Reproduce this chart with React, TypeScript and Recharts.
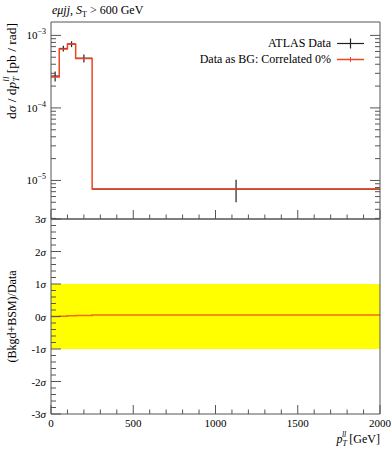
import React from 'react';
import { ComposedChart, Line, Scatter, ErrorBar, XAxis, YAxis, ReferenceArea } from 'recharts';

// bins in pT(ll) [GeV]
const binEdges = [0, 50, 100, 150, 250, 2000];
const mcValues = [2.66e-4, 6.5e-4, 7.6e-4, 4.8e-4, 7.6e-6];
const dataValues = [2.75e-4, 6.6e-4, 7.6e-4, 4.84e-4, 7.6e-6];
const dataErrors = [0.43e-4, 0.6e-4, 0.7e-4, 0.6e-4, 2.6e-6];
const pullValues = [0.0, 0.01, 0.02, 0.03, 0.05];

const decadeTicks = [1e-5, 1e-4, 1e-3];
const minorMultipliers = [2, 3, 4, 5, 6, 7, 8, 9];
const xMajorTicks = [0, 500, 1000, 1500, 2000];
const sigmaTicks = [-3, -2, -1, 0, 1, 2, 3];

const FONT = '"Liberation Serif", "DejaVu Serif", serif';
const FRAME = '#555';
const RED = '#ee4422';
const W = 392;
const LEFT = 51;
const RIGHT = 12;
const TOP = 22;
const MID = 219;
const BOTTOM = 414;

const logDomain: [number, number] = [2.94e-6, 1.53e-3];

// step line: each edge carries the value of the bin that starts there
const mcStep = binEdges.map((x, i) => ({ x, y: mcValues[Math.min(i, mcValues.length - 1)] }));
const pullStep = binEdges.map((x, i) => ({ x, y: pullValues[Math.min(i, pullValues.length - 1)] }));
const dataPts = dataValues.map((y, i) => ({
  x: (binEdges[i] + binEdges[i + 1]) / 2,
  y,
  ex: (binEdges[i + 1] - binEdges[i]) / 2,
  ey: dataErrors[i],
}));

const logTicks: number[] = [];
[1e-6, 1e-5, 1e-4].forEach((d) => {
  [1, ...minorMultipliers].forEach((m) => {
    const v = d * m;
    if (v >= logDomain[0] && v <= logDomain[1]) logTicks.push(v);
  });
});
logTicks.push(1e-3);

const xTicks: number[] = [];
for (let v = 0; v <= 2000; v += 100) xTicks.push(v);
const sigmaMinor: number[] = [];
for (let i = -15; i <= 15; i++) sigmaMinor.push(Math.round(i * 2) / 10);

const isDecade = (v: number) => Math.abs(Math.log10(v) - Math.round(Math.log10(v))) < 1e-6;
const isInt = (v: number) => Math.abs(v - Math.round(v)) < 1e-6;

const LogTick = ({ x, y, payload, side }: any) => {
  const v = payload.value;
  const major = isDecade(v);
  const len = major ? 10 : 5;
  const dir = side === 'left' ? 1 : -1;
  const exp = Math.round(Math.log10(v));
  return (
    <g>
      <line x1={x} x2={x + dir * len} y1={y} y2={y} stroke={FRAME} strokeWidth={1} />
      {side === 'left' && major && decadeTicks.includes(Number(`1e${exp}`)) && (
        <text x={x - 5} y={y + 4} textAnchor="end" fontFamily={FONT} fontSize={11} fill="#000">
          10<tspan dy={-5} fontSize={8}>{`−${-exp}`}</tspan>
        </text>
      )}
    </g>
  );
};

const SigmaTick = ({ x, y, payload, side }: any) => {
  const v = payload.value;
  const major = isInt(v);
  const len = major ? 10 : 5;
  const dir = side === 'left' ? 1 : -1;
  const n = Math.round(v);
  return (
    <g>
      <line x1={x} x2={x + dir * len} y1={y} y2={y} stroke={FRAME} strokeWidth={1} />
      {side === 'left' && major && sigmaTicks.includes(n) && (
        <text x={x - 5} y={y + 4} textAnchor="end" fontFamily={FONT} fontSize={11} fill="#000">
          {n < 0 ? `-${-n}` : `${n}`}
          <tspan fontStyle="italic">σ</tspan>
        </text>
      )}
    </g>
  );
};

const XTick = ({ x, y, payload, side, labels }: any) => {
  const v = payload.value;
  const major = v % 500 === 0;
  const len = major ? 9 : 4.5;
  const dir = side === 'top' ? 1 : -1;
  return (
    <g>
      <line x1={x} x2={x} y1={y} y2={y + dir * len} stroke={FRAME} strokeWidth={1} />
      {labels && major && xMajorTicks.includes(v) && (
        <text x={x} y={y + 13} textAnchor="middle" fontFamily={FONT} fontSize={11} fill="#000">
          {v}
        </text>
      )}
    </g>
  );
};

const App = () => {
  return (
    <div style={{ position: 'absolute', left: 0, top: 0, width: W, height: 450, background: '#fff' }}>
      {/* upper panel */}
      <div style={{ position: 'absolute', left: 0, top: 0 }}>
        <ComposedChart width={W} height={MID + 10}
          margin={{ top: TOP - 1, right: RIGHT - 1, bottom: 9, left: LEFT - 1 }}>
          <XAxis xAxisId="b" dataKey="x" type="number" domain={[0, 2000]} ticks={xTicks} interval={0}
            height={1} tickSize={0} tickMargin={0} stroke={FRAME} allowDataOverflow
            tick={<XTick side="bottom" />} />
          <XAxis xAxisId="t" orientation="top" dataKey="x" type="number" domain={[0, 2000]} ticks={xTicks}
            interval={0} height={1} tickSize={0} tickMargin={0} stroke={FRAME}
            tick={<XTick side="top" />} />
          <YAxis yAxisId="l" type="number" scale="log" domain={logDomain} allowDataOverflow ticks={logTicks}
            interval={0} width={1} tickSize={0} tickMargin={0} stroke={FRAME} tick={<LogTick side="left" />} />
          <YAxis yAxisId="r" orientation="right" type="number" scale="log" domain={logDomain} allowDataOverflow
            ticks={logTicks} interval={0} width={1} tickSize={0} tickMargin={0} stroke={FRAME}
            tick={<LogTick side="right" />} />
          <Scatter xAxisId="b" yAxisId="l" data={dataPts} dataKey="y" isAnimationActive={false}
            shape={() => <g />}>
            <ErrorBar dataKey="ex" direction="x" width={0} stroke="#222" strokeWidth={1.2} />
            <ErrorBar dataKey="ey" direction="y" width={0} stroke="#222" strokeWidth={1.2} />
          </Scatter>
          <Line xAxisId="b" yAxisId="l" data={mcStep} dataKey="y" type="stepAfter" stroke={RED}
            strokeWidth={1.5} dot={false} isAnimationActive={false} />
        </ComposedChart>
      </div>

      {/* lower panel */}
      <div style={{ position: 'absolute', left: 0, top: 0 }}>
        <ComposedChart width={W} height={450}
          margin={{ top: MID - 1, right: RIGHT - 1, bottom: 450 - BOTTOM - 1, left: LEFT - 1 }}>
          <XAxis xAxisId="b" dataKey="x" type="number" domain={[0, 2000]} ticks={xTicks} interval={0}
            height={1} tickSize={0} tickMargin={0} stroke={FRAME}
            tick={<XTick side="bottom" labels />} />
          <XAxis xAxisId="t" orientation="top" dataKey="x" type="number" domain={[0, 2000]} ticks={xTicks}
            interval={0} height={1} tickSize={0} tickMargin={0} stroke={FRAME}
            tick={<XTick side="top" />} />
          <YAxis yAxisId="l" type="number" domain={[-3, 3]} ticks={sigmaMinor} interval={0}
            width={1} tickSize={0} tickMargin={0} stroke={FRAME} tick={<SigmaTick side="left" />} />
          <YAxis yAxisId="r" orientation="right" type="number" domain={[-3, 3]} ticks={sigmaMinor} interval={0}
            width={1} tickSize={0} tickMargin={0} stroke={FRAME} tick={<SigmaTick side="right" />} />
          <ReferenceArea xAxisId="b" yAxisId="l" x1={0} x2={2000} y1={-1} y2={1} fill="#ffff00"
            fillOpacity={1} stroke="none" />
          <Line xAxisId="b" yAxisId="l" data={pullStep} dataKey="y" type="stepAfter" stroke={RED}
            strokeWidth={1.5} strokeOpacity={0.8} dot={false} isAnimationActive={false} />
        </ComposedChart>
      </div>

      {/* labels and legend */}
      <svg width={W} height={450} style={{ position: 'absolute', left: 0, top: 0, pointerEvents: 'none' }}
        fontFamily={FONT} fill="#000">
        <text x={52} y={14} fontSize={12}>
          <tspan fontStyle="italic">eμjj</tspan>, <tspan fontStyle="italic">S</tspan>
          <tspan fontSize={8} dy={3}>T</tspan>
          <tspan dy={-3}> &gt; 600 GeV</tspan>
        </text>

        <text transform={`translate(16,${TOP + 1}) rotate(-90)`} textAnchor="end" fontSize={13.5}>
          d<tspan fontStyle="italic">σ</tspan> / d<tspan fontStyle="italic">p</tspan>
          <tspan fontSize={9} dy={3} fontStyle="italic">T</tspan>
          <tspan fontSize={9} dy={-10} dx={-5} fontStyle="italic">ll</tspan>
          <tspan dy={7}> [pb / rad]</tspan>
        </text>

        <text transform={`translate(16,${(MID + BOTTOM) / 2}) rotate(-90)`} textAnchor="middle" fontSize={12}>
          (Bkgd+BSM)/Data
        </text>

        <text x={380} y={443} textAnchor="end" fontSize={12}>
          <tspan fontStyle="italic">p</tspan>
          <tspan fontSize={8} dy={3} fontStyle="italic">T</tspan>
          <tspan fontSize={8} dy={-9} dx={-5} fontStyle="italic">ll</tspan>
          <tspan dy={6}> [GeV]</tspan>
        </text>

        <text x={331} y={47} textAnchor="end" fontSize={12}>ATLAS Data</text>
        <line x1={337} x2={364} y1={43.5} y2={43.5} stroke="#222" strokeWidth={1.2} />
        <line x1={350.5} x2={350.5} y1={38.5} y2={48.5} stroke="#222" strokeWidth={1.2} />

        <text x={331} y={63} textAnchor="end" fontSize={12}>Data as BG: Correlated 0%</text>
        <line x1={337} x2={364} y1={59.5} y2={59.5} stroke={RED} strokeWidth={1.5} />
        <line x1={350.5} x2={350.5} y1={57} y2={62} stroke={RED} strokeWidth={1} />
      </svg>
    </div>
  );
};

export default App;
